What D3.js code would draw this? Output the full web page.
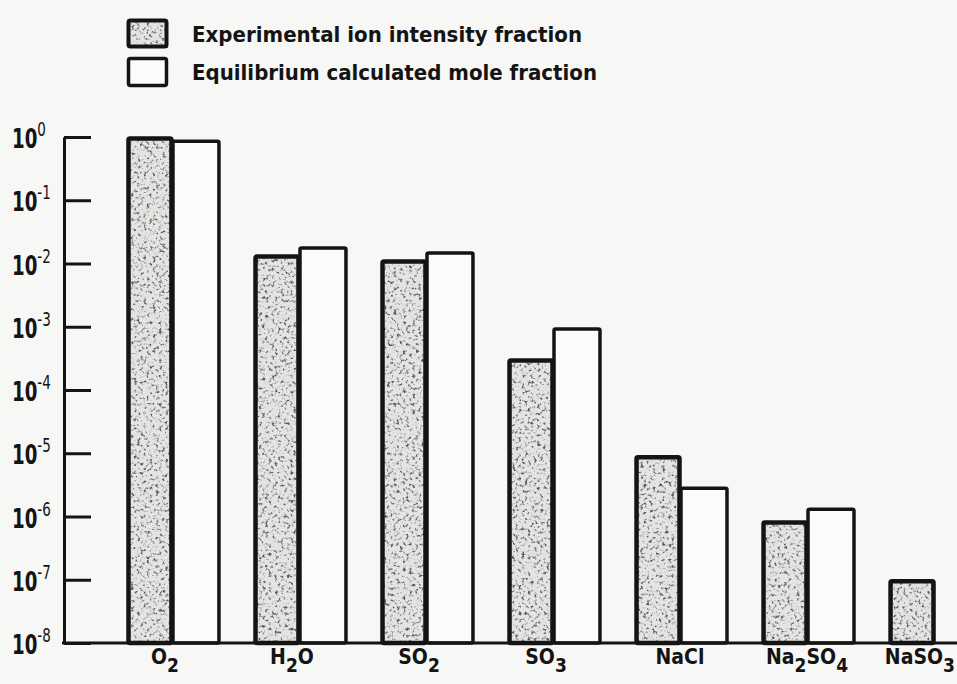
<!DOCTYPE html>
<html><head><meta charset="utf-8">
<script src="https://cdn.jsdelivr.net/npm/d3@7"></script>
<style>html,body{margin:0;padding:0;background:#f7f7f5;}svg{display:block;}</style>
</head><body>
<svg id="chart" width="957" height="684"></svg>
<script>
const categories = ["O2","H2O","SO2","SO3","NaCl","Na2SO4","NaSO3"];
const experimental = [1.0, 0.0136, 0.0114, 3.1e-4, 9.1e-6, 8.5e-7, 1.0e-7];
const calculated = [0.86, 0.0176, 0.0147, 9.2e-4, 2.8e-6, 1.3e-6, null];
const seriesNames = ["Experimental ion intensity fraction", "Equilibrium calculated mole fraction"];
const tickExponents = [0, -1, -2, -3, -4, -5, -6, -7, -8];

const svg = d3.select("#chart");
const ink = "#141414";
const defs = svg.append("defs");
const f = defs.append("filter").attr("id","stip").attr("x",0).attr("y",0).attr("width","100%").attr("height","100%");
f.append("feTurbulence").attr("type","fractalNoise").attr("baseFrequency",0.32).attr("numOctaves",2).attr("seed",7).attr("result","n");
f.append("feColorMatrix").attr("in","n").attr("type","matrix")
 .attr("values","0 0 0 0 0.1  0 0 0 0 0.1  0 0 0 0 0.1  4.5 0 0 0 -2.35").attr("result","dots");
f.append("feFlood").attr("flood-color","#e4e4e2").attr("result","bg");
f.append("feComposite").attr("in","dots").attr("in2","bg").attr("operator","over").attr("result","tex");
f.append("feComposite").attr("in","tex").attr("in2","SourceGraphic").attr("operator","in");

const y = d3.scaleLog().domain([1e-8, 1]).range([643, 137]);
const x0 = d3.scaleBand().domain(categories).range([127, 981]).paddingInner(0.276).paddingOuter(0);
const x1 = d3.scaleBand().domain([0,1]).range([0, x0.bandwidth()]).padding(0);

const rows = categories.map((c,i)=>({c, vals:[experimental[i], calculated[i]]}));

// bars
const g = svg.append("g");
rows.forEach(r=>{
  r.vals.forEach((v,si)=>{
    if (v == null) return;
    const bx = x0(r.c) + x1(si), bw = x1.bandwidth();
    const by = y(v), bh = y(1e-8) - y(v);
    if (si === 0) {
      g.append("rect").attr("x",bx).attr("y",by).attr("width",bw).attr("height",bh)
       .attr("fill","#000").attr("filter","url(#stip)");
      g.append("rect").attr("x",bx+1.5).attr("y",by+1.5).attr("width",bw-3).attr("height",bh-1.5)
       .attr("fill","none").attr("stroke",ink).attr("stroke-width",4.5).attr("rx",1.5);
    } else {
      g.append("rect").attr("x",bx).attr("y",by).attr("width",bw).attr("height",bh)
       .attr("fill","#fbfbfa").attr("stroke",ink).attr("stroke-width",3.5).attr("rx",1.5);
    }
  });
});

// y axis
const ax = svg.append("g").attr("transform","translate(64,0)")
  .call(d3.axisRight(y).tickValues(tickExponents.map(e=>Math.pow(10,e))).tickSize(27).tickSizeOuter(0).tickFormat(""));
ax.selectAll("path,line").attr("stroke",ink).attr("stroke-width",3);

// baseline
svg.append("line").attr("x1",62).attr("x2",957).attr("y1",y(1e-8)).attr("y2",y(1e-8))
  .attr("stroke",ink).attr("stroke-width",3);

// tick labels
tickExponents.forEach(e=>{
  const t = svg.append("text").attr("transform",`translate(12,${y(Math.pow(10,e))+11}) scale(0.75,1)`)
    .attr("font-family","DejaVu Sans Condensed, DejaVu Sans").attr("font-weight","bold").attr("font-size",27).attr("fill",ink);
  t.append("tspan").text("10");
  t.append("tspan").attr("font-size",20).attr("dy",-12).attr("font-weight","normal").text(String(e).replace("-","-"));
});

// category labels
categories.forEach((c,i)=>{
  const last = i === categories.length - 1;
  const cx = last ? 955 : x0(c) + x0.bandwidth()/2 - (i < 4 ? 8 : 1);
  const t = svg.append("text").attr("x",cx).attr("y",664).attr("text-anchor", last ? "end" : "middle")
    .attr("font-family","DejaVu Sans Condensed, DejaVu Sans").attr("font-weight","bold")
    .attr("font-size",21).attr("fill",ink);
  const parts = c.match(/[A-Za-z]+|\d+/g);
  let sub = false;
  parts.forEach(p=>{
    const isNum = /\d/.test(p);
    const ts = t.append("tspan").text(p);
    if (isNum && !sub) { ts.attr("dy",8).attr("font-size",19); sub = true; }
    else if (!isNum && sub) { ts.attr("dy",-8); sub = false; }
  });
});

// legend
const lg = svg.append("g");
const boxes = [{y:19,h:29},{y:57,h:30}];
seriesNames.forEach((name,i)=>{
  const b = boxes[i];
  if (i===0){
    lg.append("rect").attr("x",127).attr("y",b.y).attr("width",41).attr("height",b.h).attr("fill","#000").attr("filter","url(#stip)");
    lg.append("rect").attr("x",128.5).attr("y",b.y+1.5).attr("width",38).attr("height",b.h-3).attr("fill","none").attr("stroke",ink).attr("stroke-width",4).attr("rx",2);
  } else {
    lg.append("rect").attr("x",128.5).attr("y",b.y+1.5).attr("width",38).attr("height",b.h-3).attr("fill","#fbfbfa").attr("stroke",ink).attr("stroke-width",3.5).attr("rx",2);
  }
  lg.append("text").attr("x",192).attr("y",b.y + b.h/2 + 8).attr("font-family","DejaVu Sans Condensed, DejaVu Sans")
    .attr("font-weight","bold").attr("font-size",22).attr("fill",ink)
    .attr("textLength", i===0 ? 390 : 405).attr("lengthAdjust","spacingAndGlyphs").text(name);
});
</script>
</body></html>
